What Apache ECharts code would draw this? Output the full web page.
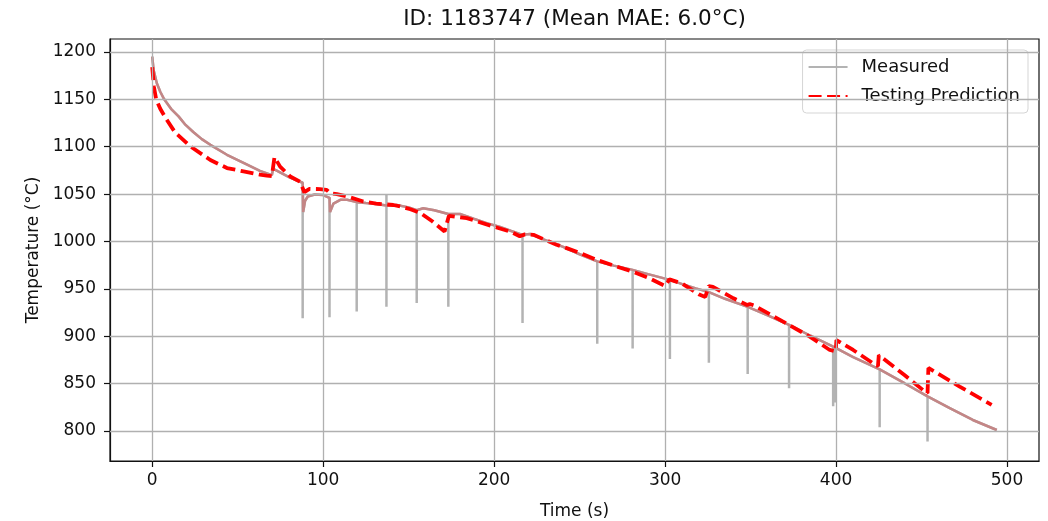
<!DOCTYPE html>
<html>
<head>
<meta charset="utf-8">
<script src="https://cdn.jsdelivr.net/npm/echarts@6/dist/echarts.min.js"></script>
<style>html,body{margin:0;padding:0;background:#fff}#c{width:1048px;height:521px}</style>
</head>
<body>
<div id="c"></div>
<script>
// ---- data ----
const titleText = 'ID: 1183747 (Mean MAE: 6.0°C)';
const xTicks = [0, 100, 200, 300, 400, 500];
const yTicks = [800, 850, 900, 950, 1000, 1050, 1100, 1150, 1200];

// measured temperature, smooth part (time s, °C)
const measT = [0,0.8,2.7,4.7,7,11,15.4,19.5,24,29,34,43.7,53.4,63,70,70.7,72,80,86.5,88,88.3,89.4,91,95,100,103.7,104,106,110,114,119.6,125,131,137,143,150,154.7,158.5,165,173.2,180,188,195.6,203,210,216.6,221,230,240,250,260.3,270,281,290,302.8,310,318,325.6,335,348.3,360,372.5,385,398.3,399.5,410,425.5,440,453.5,466.5,480,494];
const measV = [1195,1181,1167,1158,1150,1140,1132,1123,1115.5,1108,1102,1091.5,1083,1074.5,1070,1077,1075.5,1068,1063,1062,1031,1043,1047.5,1049.5,1049,1046,1031,1040,1044,1044,1041.5,1040.5,1039.5,1038,1038.5,1036,1033,1035,1033,1029,1029,1024,1019.4,1015.5,1011,1007,1008,1001.5,994.5,986.5,979,974.5,970,965.5,959.5,955,950.5,946.5,939.5,931,922,912,900.5,889,888,878,865,850.4,836.5,824,811.6,801];

// short sharp dips in the measured signal (time, lowest value, highest value or null)
const spikeT    = [88,103.7,119.6,137,154.7,173.2,216.6,260.3,281,302.8,325.6,348.3,372.5,398.3,399.5,425.5,453.5];
const spikeLow  = [919,920,926,931,935,931,914,892,887,876,872,860,845,826,830,804,789];
const spikeHigh = [null,null,null,1050,null,null,null,null,null,null,null,null,null,null,null,null,null];

// testing prediction
const predT = [0,1,2.3,4.7,7.6,13.4,22.2,34,43.7,53.4,63,67,70,71.5,72.5,74.8,80.7,86.5,89,90,92,98,102,104,108,114,123.5,131,141,145,151,157,164,171,173.5,184,199.5,210,215,218,223,236.5,242.4,250,260,270,281.4,291,300,302.5,310,320,323.5,325.5,328,340,348,349.5,352,369,384.6,396.3,399.8,400.2,410,421.6,424.5,425,440,451,453.5,454,472.3,491];
const predV = [1184,1163,1150,1140,1131,1115,1100.5,1086,1077.5,1074,1070.5,1069.5,1069,1089,1086,1079,1068.6,1063,1052,1054,1055.5,1055.3,1054.5,1051,1050,1047.5,1042.2,1040,1038.5,1037,1034,1030,1021,1010.5,1027,1024.6,1015.8,1010,1005.5,1007.5,1007,996.5,993,988,980.6,974.5,968,961,953,960,955.5,944,941.5,953,952,940,933,934,932.5,915.4,899.6,885.5,884,896,885.5,871.5,868.5,880,859,843,840,866.5,846.8,827.5];

// ---- build series data ----
const smoothData = measT.map((t, i) => [t, measV[i]]);
const measuredData = [];
measT.forEach((t, i) => {
  measuredData.push([t, measV[i]]);
  const k = spikeT.indexOf(t);
  if (k >= 0) {
    if (spikeHigh[k] != null) measuredData.push([t, spikeHigh[k]]);
    measuredData.push([t, spikeLow[k]]);
    measuredData.push([t, measV[i]]);
  }
});
const predData = predT.map((t, i) => [t, predV[i]]);

const FONT = 'DejaVu Sans';
const chart = echarts.init(document.getElementById('c'), null, {renderer: 'canvas'});
const gridLines = [
  ...yTicks.map(v => ({yAxis: v})),
  ...xTicks.map(v => ({xAxis: v}))
];
chart.setOption({
  animation: false,
  backgroundColor: '#fff',
  textStyle: {fontFamily: FONT},
  title: {
    text: titleText,
    left: 574.5, top: 8, padding: 0, textAlign: 'center',
    textStyle: {fontFamily: FONT, fontSize: 21.5, fontWeight: 'normal', color: '#111'}
  },
  grid: {left: 110, right: 9, top: 39, bottom: 60, show: true, borderColor: '#111', borderWidth: 1.2,
         backgroundColor: 'transparent', containLabel: false, outerBoundsMode: 'none'},
  legend: {
    data: ['Measured', 'Testing Prediction'],
    orient: 'vertical', right: 20, top: 50,
    padding: [8, 8, 8, 5],
    itemWidth: 39, itemHeight: 14, itemGap: 11,
    itemStyle: {opacity: 0},
    backgroundColor: 'rgba(255,255,255,0.85)', borderColor: '#d5d5d5', borderWidth: 1, borderRadius: 4,
    textStyle: {fontFamily: FONT, fontSize: 18, color: '#111', padding: [0, 0, 0, 9]}
  },
  xAxis: {
    type: 'value', min: -24.7, max: 518.7,
    name: 'Time (s)', nameLocation: 'middle', nameGap: 42,
    nameTextStyle: {fontFamily: FONT, fontSize: 17, color: '#111'},
    axisLine: {show: true, onZero: false, lineStyle: {color: '#111', width: 1.2}},
    axisTick: {show: true, length: 6, inside: false, customValues: xTicks, lineStyle: {color: '#111', width: 1.2}},
    axisLabel: {customValues: xTicks, margin: 11, fontFamily: FONT, fontSize: 17, color: '#111', formatter: v => String(v)},
    splitLine: {show: false}
  },
  yAxis: {
    type: 'value', min: 768.3, max: 1213.7,
    name: 'Temperature (°C)', nameLocation: 'middle', nameGap: 65, nameRotate: 90,
    nameTextStyle: {fontFamily: FONT, fontSize: 17, color: '#111'},
    axisLine: {show: true, onZero: false, lineStyle: {color: '#111', width: 1.2}},
    axisTick: {show: true, length: 6, inside: false, customValues: yTicks, lineStyle: {color: '#111', width: 1.2}},
    axisLabel: {customValues: yTicks, margin: 14, fontFamily: FONT, fontSize: 17, color: '#111', formatter: v => String(v)},
    splitLine: {show: false}
  },
  series: [
    {
      name: 'grid', type: 'line', data: [], z: 1, silent: true,
      markLine: {
        silent: true, symbol: ['none', 'none'], label: {show: false}, animation: false,
        lineStyle: {color: '#b0b0b0', width: 1.3, type: 'solid'},
        emphasis: {disabled: true},
        data: gridLines
      }
    },
    {
      name: 'Measured', type: 'line', data: measuredData, z: 2,
      symbol: 'none', showSymbol: false,
      lineStyle: {color: 'rgba(128,128,128,0.6)', width: 2.5},
      itemStyle: {color: 'rgba(128,128,128,0.6)'}
    },
    {
      name: 'measured (smooth)', type: 'line', data: smoothData, z: 3,
      symbol: 'none', showSymbol: false,
      lineStyle: {color: 'rgb(196,134,134)', width: 2.5},
      itemStyle: {color: 'rgb(196,134,134)'}
    },
    {
      name: 'Testing Prediction', type: 'line', data: predData, z: 4,
      symbol: 'none', showSymbol: false,
      lineStyle: {color: '#ff0000', width: 3.8, type: [13, 5.5]},
      itemStyle: {color: '#ff0000'}
    }
  ]
});
</script>
</body>
</html>
